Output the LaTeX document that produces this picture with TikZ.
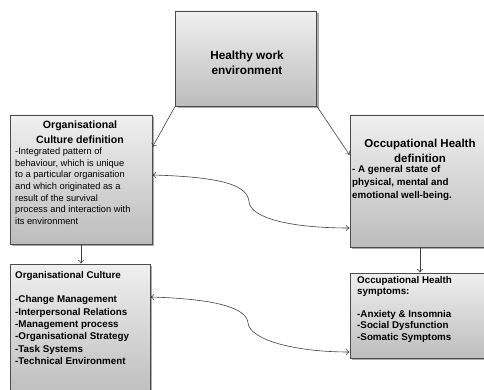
\documentclass[tikz,border=0pt]{standalone}
\usepackage{fontspec}
\setmainfont{Liberation Sans}
\usetikzlibrary{shadows,arrows.meta}
\tikzset{
  box/.style={draw=black!70, line width=0.9pt, top color=black!6, bottom color=black!26,
    drop shadow={shadow xshift=2pt, shadow yshift=-2pt, fill=black!55, opacity=0.6},
    inner sep=0pt},
  txt/.style={inner sep=0pt, text=black},
  conn/.style={draw=black!75, line width=0.6pt, -{To[length=3.5pt,width=6pt]}},
  dconn/.style={draw=black!75, line width=0.6pt, {To[length=3.5pt,width=6pt]}-{To[length=3.5pt,width=6pt]}}
}
\begin{document}
\begin{tikzpicture}[x=1pt,y=-1pt]
\useasboundingbox (0,0) rectangle (484,390);
% boxes
\node[box, minimum width=141pt, minimum height=95pt] (T) at (246,58.5) {};
\node[box, minimum width=142pt, minimum height=129pt] (L1) at (81,179.5) {};
\node[box, minimum width=140pt, minimum height=134pt] (L2) at (80,331) {};
\node[box, minimum width=140pt, minimum height=132pt] (R1) at (420,181) {};
\node[box, minimum width=140pt, minimum height=85pt] (R2) at (420,315.5) {};
% texts
\node[txt, align=center, font=\fontsize{11.8}{15}\selectfont\bfseries] (tT) at (247,63) {Healthy work\\environment};
\node[txt, align=center, font=\fontsize{10.6}{15}\selectfont\bfseries] (tL1a) at (80,132.5) {Organisational\\Culture definition};
\node[txt, align=left, anchor=north west, font=\fontsize{9.3}{11.7}\selectfont] (tL1b) at (15,147.5)
  {-Integrated pattern of\\behaviour, which is unique\\to a particular organisation\\and which originated as a\\result of the survival\\process and interaction with\\its environment};
\node[txt, align=center, font=\fontsize{11.5}{15}\selectfont\bfseries] (tR1a) at (420,150.5) {Occupational Health\\definition};
\node[txt, align=left, anchor=north west, font=\fontsize{9.8}{13}\selectfont\bfseries] (tR1b) at (352,165.5)
  {- A general state of\\physical, mental and\\emotional well-being.};
\node[txt, align=left, anchor=north west, font=\fontsize{9.8}{12.3}\selectfont\bfseries] (tL2) at (15,271)
  {Organisational Culture\\[12.3pt]-Change Management\\-Interpersonal Relations\\-Management process\\-Organisational Strategy\\-Task Systems\\-Technical Environment};
\node[txt, align=left, anchor=north west, font=\fontsize{9.8}{11.4}\selectfont\bfseries] (tR2) at (357,276)
  {Occupational Health\\symptoms:\\[11.4pt]-Anxiety \& Insomnia\\-Social Dysfunction\\-Somatic Symptoms};
% connectors
\draw[conn] (T.south west) -- (L1.east |- 0,147);
\draw[conn] (T.south east) -- (R1.west |- 0,155);
\draw[conn] (L1.south) -- (L1.south |- L2.north);
\draw[conn] (R1.south) -- (R2.north);
\draw[dconn] (L1.east |- 0,175) .. controls (225,177) and (248,186) .. (249,202)
  .. controls (251,218) and (290,228) .. (R1.west |- 0,228);
\draw[dconn] (L2.east |- 0,297) .. controls (220,299) and (247,309) .. (248,323)
  .. controls (250,340) and (295,352) .. (R2.west |- 0,352);
\end{tikzpicture}
\end{document}
